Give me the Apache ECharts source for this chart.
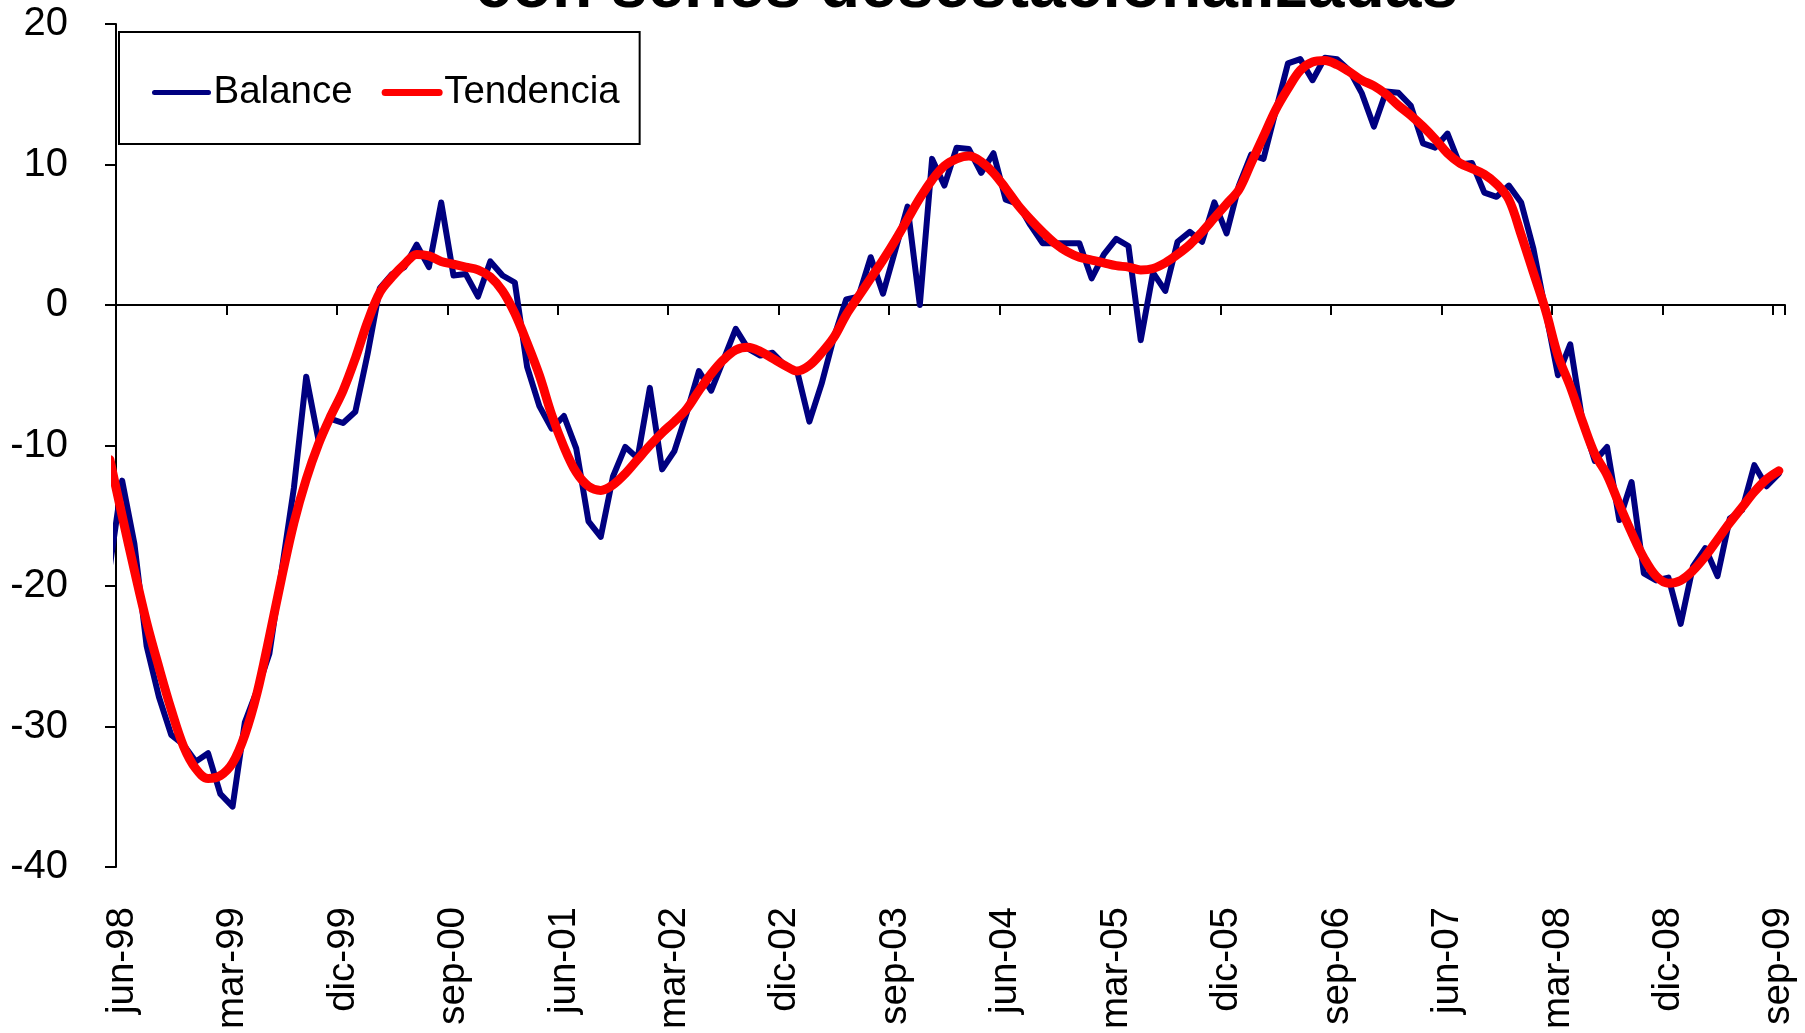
<!DOCTYPE html>
<html>
<head>
<meta charset="utf-8">
<title>Balance y tendencia</title>
<script src="https://cdn.jsdelivr.net/npm/echarts@6/dist/echarts.min.js"></script>
<style>
  html, body { margin: 0; padding: 0; background: #ffffff; }
  #chart { width: 1805px; height: 1033px; }
</style>
</head>
<body>
<div id="chart"></div>
<script>
// Month names used for the category labels (Spanish abbreviations)
const MONTH_NAMES = ['ene', 'feb', 'mar', 'abr', 'may', 'jun', 'jul', 'ago', 'sep', 'oct', 'nov', 'dic'];

// Series run monthly from may-98 (lead-in month, left of the visible axis) to sep-09
const FIRST_YEAR = 1998;
const FIRST_MONTH = 4;      // 0-based: may
const MONTH_COUNT = 137;
const FIRST_SHOWN = 1;      // jun-98 is the first visible category
const LABEL_STEP = 9;       // one label / tick every 9 months

const categories = [];
for (let k = 0; k < MONTH_COUNT; k++) {
  const m = (FIRST_MONTH + k) % 12;
  const y = FIRST_YEAR + Math.floor((FIRST_MONTH + k) / 12);
  categories.push(MONTH_NAMES[m] + '-' + String(y % 100).padStart(2, '0'));
}

// Balance (seasonally adjusted), may-98 .. sep-09
const balance = [
  -18.6,
  -12.5, -17.0, -24.3, -27.9, -30.6, -31.3, -32.5, -31.9, -34.8, -35.7,
  -29.7, -27.4, -24.8, -18.9, -13.0, -5.1, -9.6, -8.1, -8.4, -7.6,
  -3.5, 1.2, 2.2, 2.7, 4.3, 2.7, 7.3, 2.1, 2.2, 0.6,
  3.1, 2.1, 1.6, -4.4, -7.2, -8.8, -7.9, -10.2, -15.4, -16.5,
  -12.2, -10.1, -10.9, -5.9, -11.7, -10.4, -7.7, -4.7, -6.1, -3.9,
  -1.7, -3.1, -3.6, -3.4, -4.3, -4.7, -8.3, -5.6, -2.3, 0.4,
  0.6, 3.4, 0.8, 3.9, 7.0, 0.0, 10.4, 8.5, 11.2, 11.1,
  9.4, 10.8, 7.5, 7.2, 5.7, 4.4, 4.4, 4.4, 4.4, 1.9,
  3.6, 4.7, 4.2, -2.5, 2.3, 1.0, 4.5, 5.2, 4.5, 7.3,
  5.1, 8.5, 10.7, 10.4, 13.8, 17.2, 17.5, 16.0, 17.6, 17.5,
  16.7, 15.1, 12.7, 15.2, 15.1, 14.2, 11.5, 11.2, 12.2, 10.0,
  10.1, 8.0, 7.7, 8.5, 7.3, 4.0, -0.5, -5.0, -2.8, -8.3,
  -11.1, -10.1, -15.3, -12.6, -19.1, -19.6, -19.4, -22.7, -18.6, -17.3,
  -19.3, -15.2, -14.6, -11.4, -12.9, -12.0
];

// Trend, may-98 .. sep-09
const tendencia = [
  -11.0,
  -15.0, -18.9, -22.6, -25.8, -28.8, -31.4, -33.0, -33.7, -33.5, -32.6,
  -30.6, -27.6, -23.6, -19.4, -15.5, -12.4, -9.9, -7.9, -6.1, -3.8,
  -1.2, 0.9, 2.0, 2.9, 3.6, 3.5, 3.1, 2.9, 2.7, 2.5,
  2.0, 1.0, -0.6, -2.7, -5.0, -7.8, -10.1, -11.9, -12.9, -13.2,
  -12.8, -12.0, -11.0, -10.0, -9.1, -8.3, -7.4, -6.1, -4.9, -3.9,
  -3.2, -3.0, -3.3, -3.8, -4.3, -4.7, -4.3, -3.4, -2.3, -0.7,
  0.6, 1.9, 3.2, 4.6, 6.1, 7.6, 8.9, 9.9, 10.4, 10.6,
  10.2, 9.4, 8.3, 7.1, 6.1, 5.2, 4.4, 3.8, 3.4, 3.2,
  3.0, 2.8, 2.7, 2.5, 2.6, 3.0, 3.6, 4.3, 5.2, 6.2,
  7.2, 8.2, 10.1, 12.0, 13.9, 15.4, 16.7, 17.3, 17.4, 17.1,
  16.6, 16.0, 15.6, 15.0, 14.2, 13.5, 12.7, 11.8, 10.8, 10.1,
  9.7, 9.3, 8.6, 7.5, 5.0, 2.3, -0.4, -3.6, -5.8, -8.3,
  -10.6, -12.1, -14.2, -16.2, -18.0, -19.3, -19.8, -19.6, -18.9, -17.9,
  -16.7, -15.5, -14.4, -13.3, -12.4, -11.8
];

// Value axis range and step
const Y_MIN = -40;
const Y_MAX = 20;
const Y_STEP = 10;

const FONT = "'Liberation Sans', Arial, sans-serif";
const BLUE = '#000080';
const RED = '#ff0000';
const everyNinth = (idx) => idx >= FIRST_SHOWN && (idx - FIRST_SHOWN) % LABEL_STEP === 0;

const chart = echarts.init(document.getElementById('chart'), null, { renderer: 'canvas' });

chart.setOption({
  animation: false,
  backgroundColor: '#ffffff',
  title: {
    text: 'con series desestacionalizadas',
    left: 475,
    top: -44,
    padding: 0,
    textStyle: { fontFamily: FONT, fontSize: 66, fontWeight: 'bold', color: '#000000' }
  },
  legend: {
    left: 119,
    top: 32,
    orient: 'horizontal',
    itemWidth: 54,
    itemHeight: 10,
    itemGap: 29,
    padding: [41, 20, 32, 33],
    backgroundColor: '#ffffff',
    borderColor: '#000000',
    borderWidth: 2,
    borderRadius: 0,
    textStyle: { fontFamily: FONT, fontSize: 38.5, color: '#000000' },
    data: [
      { name: 'Balance', itemStyle: { opacity: 0 }, lineStyle: { color: BLUE, width: 5, cap: 'round' } },
      { name: 'Tendencia', itemStyle: { opacity: 0 }, lineStyle: { color: RED, width: 7, cap: 'round' } }
    ]
  },
  grid: { left: 116, top: 24, right: 20, bottom: 166, containLabel: false },
  xAxis: [
    {
      // axis drawn through zero, carrying the tick marks
      type: 'category',
      data: categories,
      min: FIRST_SHOWN,
      boundaryGap: true,
      position: 'bottom',
      axisLine: { show: true, onZero: true, lineStyle: { color: '#000000', width: 2 } },
      axisTick: { show: true, interval: everyNinth, length: 10, inside: false, lineStyle: { color: '#000000', width: 2 } },
      axisLabel: { show: false },
      splitLine: { show: false }
    },
    {
      // label row along the bottom of the plot
      type: 'category',
      data: categories,
      min: FIRST_SHOWN,
      boundaryGap: true,
      position: 'bottom',
      axisLine: { show: false, onZero: false },
      axisTick: { show: false },
      axisLabel: {
        show: true,
        interval: everyNinth,
        rotate: 90,
        margin: 40,
        fontFamily: FONT,
        fontSize: 38.5,
        color: '#000000'
      },
      splitLine: { show: false }
    }
  ],
  yAxis: {
    type: 'value',
    min: Y_MIN,
    max: Y_MAX,
    interval: Y_STEP,
    position: 'left',
    axisLine: { show: true, onZero: false, lineStyle: { color: '#000000', width: 2 } },
    axisTick: { show: true, length: 11, inside: false, lineStyle: { color: '#000000', width: 2 } },
    axisLabel: { margin: 48, fontFamily: FONT, fontSize: 40, color: '#000000' },
    splitLine: { show: false }
  },
  series: [
    {
      name: 'Balance',
      type: 'line',
      xAxisIndex: 0,
      data: balance,
      symbol: 'none',
      clip: true,
      z: 2,
      itemStyle: { color: BLUE },
      lineStyle: { color: BLUE, width: 6, cap: 'round', join: 'round' }
    },
    {
      name: 'Tendencia',
      type: 'line',
      xAxisIndex: 0,
      data: tendencia,
      smooth: 0.35,
      symbol: 'none',
      clip: true,
      z: 3,
      itemStyle: { color: RED },
      lineStyle: { color: RED, width: 9, cap: 'round', join: 'round' }
    }
  ]
});
</script>
</body>
</html>
